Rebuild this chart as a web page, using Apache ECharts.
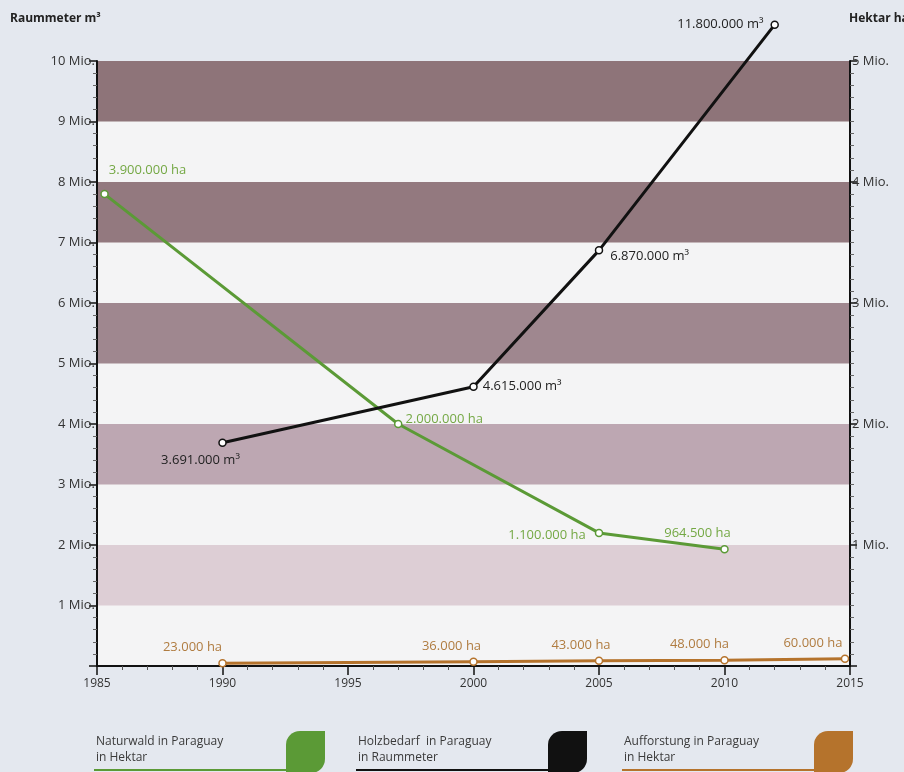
<!DOCTYPE html>
<html>
<head>
<meta charset="utf-8">
<script src="https://cdn.jsdelivr.net/npm/echarts@6/dist/echarts.min.js"></script>
<style>
  html, body { margin: 0; padding: 0; background: #e4e8ef; }
  #chart { width: 904px; height: 772px; }
</style>
</head>
<body>
<div id="chart"></div>
<script>
// Naturwald in Paraguay (Hektar, rechte Achse)
var forestYears = [1985.3, 1997, 2005, 2010];
var forestHa = [3900000, 2000000, 1100000, 964500];
var forestLabels = ['3.900.000 ha', '2.000.000 ha', '1.100.000 ha', '964.500 ha'];

// Holzbedarf in Paraguay (Raummeter, linke Achse) - letzter Punkt ueber dem Rand gezeichnet
var woodYears = [1990, 2000, 2005, 2012];
var woodM3 = [3691000, 4615000, 6870000, 10600000];
var woodLabels = ['3.691.000 m³', '4.615.000 m³', '6.870.000 m³', '11.800.000 m³'];

// Aufforstung in Paraguay (Hektar, rechte Achse)
var reforestYears = [1990, 2000, 2005, 2010, 2014.8];
var reforestHa = [23000, 36000, 43000, 48000, 60000];
var reforestLabels = ['23.000 ha', '36.000 ha', '43.000 ha', '48.000 ha', '60.000 ha'];

var legendNames = [['Naturwald in Paraguay', 'in Hektar'], ['Holzbedarf  in Paraguay', 'in Raummeter'], ['Aufforstung in Paraguay', 'in Hektar']];

var GREEN = '#5b9a36', BLACK = '#111111', ORANGE = '#b5732c';

function pairs(xs, ys) {
    return xs.map(function (x, i) { return [x, ys[i]]; });
}

function mio(v) {
    return v === 0 ? '' : (v / 1000000) + ' Mio.';
}

var myChart = echarts.init(document.getElementById('chart'));

// Beschriftungen je Punkt
var forestLabelCfg = [
    {position: 'top', offset: [43, -8]},
    {position: 'right', offset: [-2, -5]},
    {position: 'left', offset: [-4, 2]},
    {position: 'top', offset: [-27, 0]}
];
var woodLabelCfg = [
    {position: 'bottom', offset: [-22, 2]},
    {position: 'right', offset: [0, 0]},
    {position: 'right', offset: [2, 6]},
    {position: 'left', offset: [-2, 0]}
];
var reforestLabelCfg = [
    {position: 'top', offset: [-30, 0]},
    {position: 'top', offset: [-22, 0]},
    {position: 'top', offset: [-18, 0]},
    {position: 'top', offset: [-25, 0]},
    {position: 'top', offset: [-32, 0]}
];

function withLabels(xs, ys, labels, cfg, color) {
    return pairs(xs, ys).map(function (p, i) {
        return {
            value: p,
            label: {
                show: true,
                formatter: labels[i],
                position: cfg[i].position,
                offset: cfg[i].offset,
                color: color,
                fontSize: 13,
                fontFamily: 'Open Sans'
            }
        };
    });
}

var legendX = [96, 358, 624];
var legendColors = [GREEN, BLACK, ORANGE];
var legendGraphics = [];
legendNames.forEach(function (n, i) {
    legendGraphics.push({
        type: 'text', left: legendX[i], top: 734,
        style: {text: n[0] + '\n' + n[1], fill: '#3a3a3a', font: '12px "Open Sans"', lineHeight: 16}
    });
    legendGraphics.push({
        type: 'line', shape: {x1: legendX[i] - 2, y1: 770, x2: legendX[i] + 192, y2: 770},
        style: {stroke: legendColors[i], lineWidth: 2}
    });
    legendGraphics.push({
        type: 'rect', shape: {x: legendX[i] + 190, y: 731, width: 39, height: 42, r: [14, 0, 14, 0]},
        style: {fill: legendColors[i]}
    });
});

var option = {
    backgroundColor: '#e4e8ef',
    animation: false,
    grid: {
        left: 97,
        right: 54,
        top: 61,
        bottom: 106,
        show: true,
        backgroundColor: '#f4f4f5',
        borderWidth: 0
    },
    graphic: [
        {type: 'text', left: 10, top: 13, style: {text: 'Raummeter m³', fill: '#222', font: 'bold 12px "Open Sans"'}},
        {type: 'text', left: 849, top: 13, style: {text: 'Hektar ha', fill: '#222', font: 'bold 12px "Open Sans"'}}
    ].concat(legendGraphics),
    xAxis: {
        type: 'value',
        min: 1985,
        max: 2015,
        interval: 5,
        axisLine: {lineStyle: {color: '#111', width: 2}},
        axisTick: {show: true, length: 9, lineStyle: {color: '#111', width: 1.5}},
        minorTick: {show: true, splitNumber: 5, length: 4, lineStyle: {color: '#555'}},
        axisLabel: {
            color: '#333', fontSize: 12, fontFamily: 'Open Sans', margin: 12,
            formatter: function (v) { return String(v); }
        },
        splitLine: {show: false}
    },
    yAxis: [
        {
            type: 'value',
            min: 0,
            max: 10000000,
            interval: 1000000,
            axisLine: {show: true, lineStyle: {color: '#111', width: 2}},
            axisTick: {show: true, length: 8, lineStyle: {color: '#111', width: 1.5}},
            minorTick: {show: true, splitNumber: 5, length: 4, lineStyle: {color: '#666'}},
            axisLabel: {color: '#333', fontSize: 13, fontFamily: 'Open Sans', margin: 2, formatter: mio},
            splitLine: {show: false},
            splitArea: {
                show: true,
                areaStyle: {
                    color: ['#f4f4f5', '#ddced5', '#f4f4f5', '#bda7b2', '#f4f4f5',
                        '#9f878f', '#f4f4f5', '#93797f', '#f4f4f5', '#8e7479']
                }
            }
        },
        {
            type: 'value',
            min: 0,
            max: 5000000,
            interval: 1000000,
            position: 'right',
            axisLine: {show: true, lineStyle: {color: '#111', width: 2}},
            axisTick: {show: true, length: 7, lineStyle: {color: '#111', width: 1.5}},
            minorTick: {show: true, splitNumber: 10, length: 4, lineStyle: {color: '#666'}},
            axisLabel: {color: '#333', fontSize: 13, fontFamily: 'Open Sans', margin: 2, formatter: mio},
            splitLine: {show: false}
        }
    ],
    series: [
        {
            name: 'Aufforstung in Paraguay in Hektar',
            type: 'line',
            yAxisIndex: 1,
            data: withLabels(reforestYears, reforestHa, reforestLabels, reforestLabelCfg, '#b07c40'),
            lineStyle: {color: ORANGE, width: 3},
            itemStyle: {color: '#fff', borderColor: ORANGE, borderWidth: 1.5},
            symbol: 'circle',
            symbolSize: 7,
            clip: false
        },
        {
            name: 'Naturwald in Paraguay in Hektar',
            type: 'line',
            yAxisIndex: 1,
            data: withLabels(forestYears, forestHa, forestLabels, forestLabelCfg, '#74a844'),
            lineStyle: {color: GREEN, width: 3},
            itemStyle: {color: '#fff', borderColor: GREEN, borderWidth: 1.5},
            symbol: 'circle',
            symbolSize: 7,
            clip: false
        },
        {
            name: 'Holzbedarf in Paraguay in Raummeter',
            type: 'line',
            yAxisIndex: 0,
            data: withLabels(woodYears, woodM3, woodLabels, woodLabelCfg, '#222'),
            lineStyle: {color: BLACK, width: 3},
            itemStyle: {color: '#fff', borderColor: BLACK, borderWidth: 1.5},
            symbol: 'circle',
            symbolSize: 7,
            clip: false
        }
    ]
};

myChart.setOption(option);
</script>
</body>
</html>
